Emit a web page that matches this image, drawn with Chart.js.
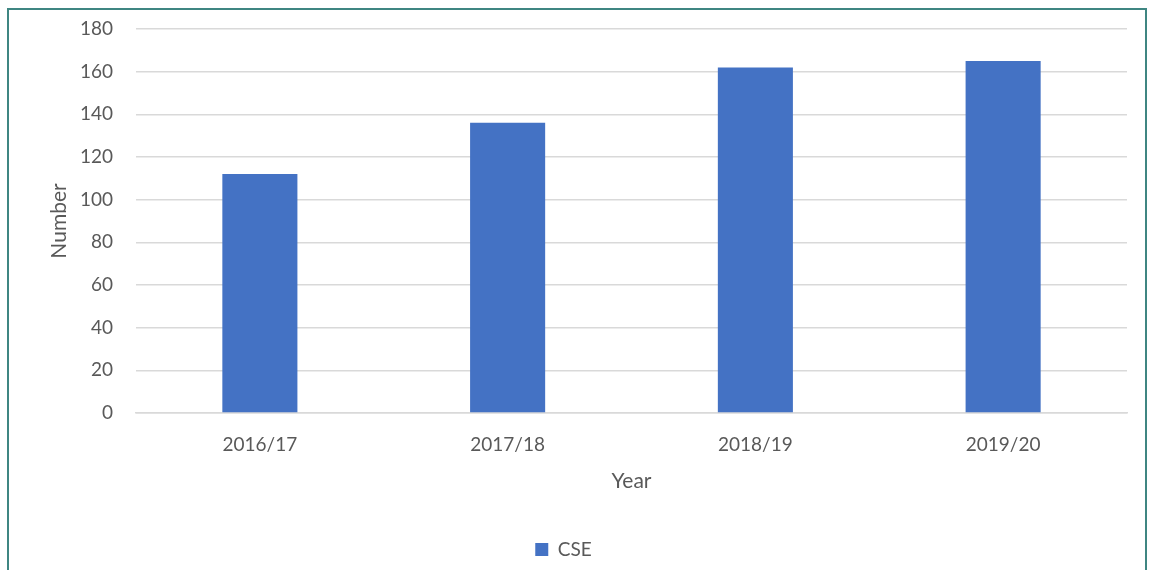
<!DOCTYPE html>
<html>
<head>
<meta charset="utf-8">
<script src="https://cdn.jsdelivr.net/npm/chart.js@4"></script>
<style>
  html, body { margin: 0; padding: 0; background: #ffffff; overflow: hidden; }
  #frame {
    position: absolute; left: 7px; top: 8px; width: 1140px; height: 600px;
    border: 2px solid #3f8682; box-sizing: border-box;
  }
  #wrap { position: absolute; left: 0; top: 0; width: 1152px; height: 570px; }
</style>
</head>
<body>
<div id="frame"></div>
<div id="wrap"><canvas id="chart" width="1152" height="570"></canvas></div>
<script>
// Enrolment counts
var years = ['2016/17', '2017/18', '2018/19', '2019/20'];
var cseValues = [112, 136, 162, 165];
var yTicks = [0, 20, 40, 60, 80, 100, 120, 140, 160, 180];

var textColor = '#595959';
var fontFamily = 'Lato, "Liberation Sans", sans-serif';

new Chart(document.getElementById('chart').getContext('2d'), {
  type: 'bar',
  data: {
    labels: years,
    datasets: [{
      label: 'CSE',
      data: cseValues,
      backgroundColor: '#4472c4',
      borderWidth: 0,
      barPercentage: 1,
      categoryPercentage: 0.303
    }]
  },
  options: {
    responsive: false,
    animation: false,
    layout: { padding: { top: 29, right: 25, left: 0, bottom: 1 } },
    scales: {
      x: {
        grid: { display: false, drawTicks: false },
        border: { display: true, color: '#d9d9d9', width: 1.5 },
        ticks: { color: textColor, padding: 20, font: { family: fontFamily, size: 19 } },
        title: { display: true, text: 'Year', color: textColor, padding: { top: 0, bottom: 36 }, font: { family: fontFamily, size: 21 } },
        afterFit: function(scale) { scale.height = 117; }
      },
      y: {
        min: 0,
        max: 180,
        afterBuildTicks: function(scale) {
          scale.ticks = yTicks.map(function(v) { return { value: v }; });
        },
        grid: { color: '#d9d9d9', lineWidth: 1.5, drawTicks: false },
        border: { display: false },
        ticks: { color: textColor, padding: 23, font: { family: fontFamily, size: 19 } },
        title: { display: true, text: 'Number', color: textColor, padding: { top: 47, bottom: 0 }, font: { family: fontFamily, size: 21 } },
        afterFit: function(scale) {
          scale.width = 136;
          scale.paddingTop = 0;
          scale.paddingBottom = 0;
        }
      }
    },
    plugins: {
      legend: {
        position: 'bottom',
        labels: {
          color: textColor,
          boxWidth: 13,
          boxHeight: 13,
          font: { family: fontFamily, size: 19 }
        }
      },
      tooltip: { enabled: false }
    }
  }
});
</script>
</body>
</html>
